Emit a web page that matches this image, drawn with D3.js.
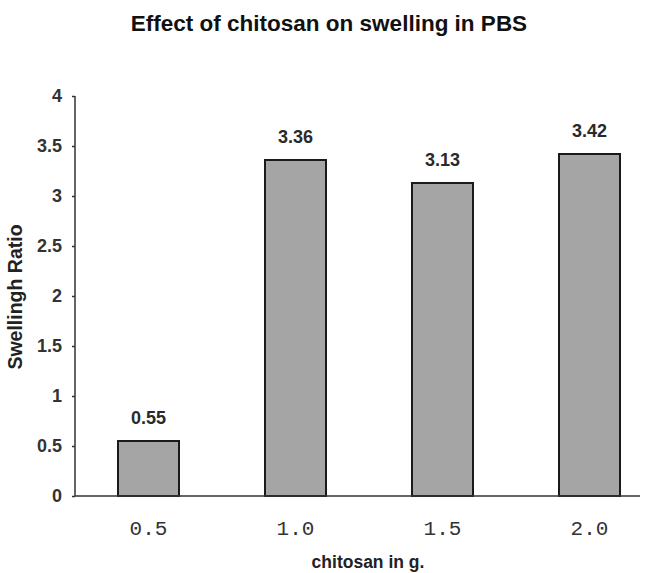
<!DOCTYPE html>
<html>
<head>
<meta charset="utf-8">
<script src="https://cdn.jsdelivr.net/npm/d3@7"></script>
<style>
  body { margin: 0; background: #fff; }
  svg { display: block; }
</style>
</head>
<body>
<svg id="chart" width="645" height="573"></svg>
<script>
const categories = ["0.5", "1.0", "1.5", "2.0"];
const swellingRatio = [0.55, 3.36, 3.13, 3.42];
const valueLabels = ["0.55", "3.36", "3.13", "3.42"];
const yTicks = [0, 0.5, 1, 1.5, 2, 2.5, 3, 3.5, 4];

const svg = d3.select("#chart");
const plotLeft = 75, plotRight = 663, plotTop = 96, plotBottom = 496;

const x = d3.scaleBand().domain(categories).range([plotLeft, plotRight]).paddingInner(0.585).paddingOuter(0.2925);
const y = d3.scaleLinear().domain([0, 4]).range([plotBottom, plotTop]);

// title
svg.append("text")
  .attr("x", 329).attr("y", 31)
  .attr("text-anchor", "middle")
  .attr("font-family", "Liberation Sans, Arial, sans-serif")
  .attr("font-weight", "bold")
  .attr("font-size", "22.5px")
  .attr("fill", "#111")
  .text("Effect of chitosan on swelling in PBS");

// bars
svg.selectAll(".bar")
  .data(swellingRatio)
  .enter().append("rect")
  .attr("class", "bar")
  .attr("x", (d, i) => x(categories[i]))
  .attr("y", d => y(d))
  .attr("width", x.bandwidth())
  .attr("height", d => y(0) - y(d))
  .attr("fill", "#a5a5a5")
  .attr("stroke", "#1a1a1a")
  .attr("stroke-width", 2);

// value labels
svg.selectAll(".val")
  .data(swellingRatio)
  .enter().append("text")
  .attr("class", "val")
  .attr("x", (d, i) => x(categories[i]) + x.bandwidth() / 2)
  .attr("y", d => y(d) - 17)
  .attr("text-anchor", "middle")
  .attr("font-family", "Liberation Sans, Arial, sans-serif")
  .attr("font-weight", "bold")
  .attr("font-size", "18px")
  .attr("fill", "#2a2a2a")
  .text((d, i) => valueLabels[i]);

// y axis
const yAxis = svg.append("g")
  .attr("transform", `translate(${plotLeft},0)`)
  .call(d3.axisLeft(y).tickValues(yTicks).tickSize(3).tickFormat(d3.format("")));
yAxis.select(".domain").attr("stroke", "#333").attr("stroke-width", 1.5).attr("d", `M0,${plotTop}V${plotBottom}`);
yAxis.selectAll(".tick line").attr("stroke", "#333").attr("stroke-width", 1.5);
yAxis.selectAll(".tick text")
  .attr("x", -13)
  .attr("font-family", "Liberation Sans, Arial, sans-serif")
  .attr("font-weight", "bold")
  .attr("font-size", "18px")
  .attr("fill", "#333");

// x axis
const xAxis = svg.append("g")
  .attr("transform", `translate(0,${plotBottom})`)
  .call(d3.axisBottom(x).tickSize(0));
xAxis.select(".domain").attr("stroke", "#333").attr("stroke-width", 1.5).attr("d", `M${plotLeft},0H640`);
xAxis.selectAll(".tick text")
  .attr("y", 39)
  .attr("dy", null)
  .attr("font-family", "Liberation Mono, Courier New, monospace")
  .attr("font-size", "21px")
  .attr("fill", "#333");

// axis titles
svg.append("text")
  .attr("x", 368).attr("y", 568)
  .attr("text-anchor", "middle")
  .attr("font-family", "Liberation Sans, Arial, sans-serif")
  .attr("font-weight", "bold")
  .attr("font-size", "17.5px")
  .attr("fill", "#222")
  .text("chitosan in g.");

svg.append("text")
  .attr("transform", "translate(22,297) rotate(-90)")
  .attr("text-anchor", "middle")
  .attr("font-family", "Liberation Sans, Arial, sans-serif")
  .attr("font-weight", "bold")
  .attr("font-size", "19.5px")
  .attr("fill", "#222")
  .text("Swellingh Ratio");
</script>
</body>
</html>
